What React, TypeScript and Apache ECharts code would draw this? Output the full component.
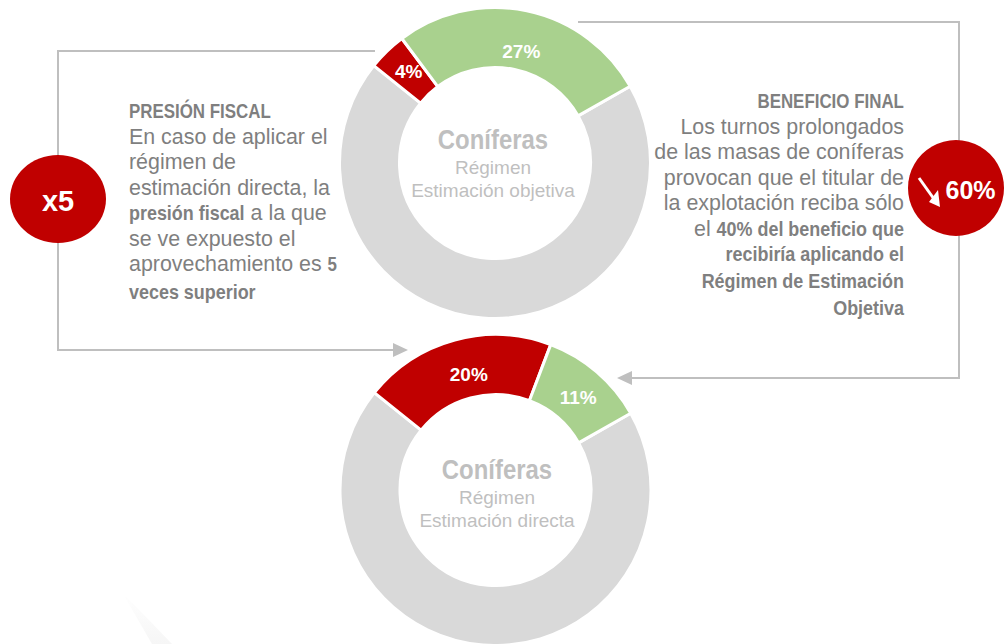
import React, { useEffect, useRef } from "react";
import * as echarts from "echarts";

const sliceNames = ["Resto", "Impuestos", "Beneficio"];
const objetivaValues = [69, 4, 27];
const directaValues = [69, 20, 11];
const pieColors = ["#d9d9d9", "#c00000", "#a9d18e"];

type Run = [string, boolean];
const leftLines: Run[][] = [
  [["PRESIÓN FISCAL", true]],
  [["En caso de aplicar el", false]],
  [["régimen de", false]],
  [["estimación directa, la", false]],
  [["presión fiscal", true], [" a la que", false]],
  [["se ve expuesto el", false]],
  [["aprovechamiento es ", false], ["5", true]],
  [["veces superior", true]],
];
const leftY = [111, 136.5, 162, 187.5, 213, 238.5, 264, 292];
const rightLines: Run[][] = [
  [["BENEFICIO FINAL", true]],
  [["Los turnos prolongados", false]],
  [["de las masas de coníferas", false]],
  [["provocan que el titular de", false]],
  [["la explotación reciba sólo", false]],
  [["el ", false], ["40% del beneficio que", true]],
  [["recibiría aplicando el", true]],
  [["Régimen de Estimación", true]],
  [["Objetiva", true]],
];
const rightY = [101, 126.5, 152, 177.5, 203, 229, 254.5, 281, 308];

const FONT = '"Liberation Sans", sans-serif';
const BODY_SIZE = 21.4;
const BOLD_SIZE = 20.5;
const GREY = "#7f7f7f";

const canvas = document.createElement("canvas");
function boldScale(t: string) {
  return t === t.toUpperCase() ? 0.825 : 0.875;
}
function runWidth(t: string, bold: boolean) {
  const ctx = canvas.getContext("2d")!;
  ctx.font = bold ? `bold ${BOLD_SIZE}px ${FONT}` : `${BODY_SIZE}px ${FONT}`;
  return ctx.measureText(t).width * (bold ? boldScale(t) : 1);
}

function textLines(lines: Run[][], ys: number[], anchor: number, alignRight: boolean) {
  const out: any[] = [];
  lines.forEach((runs, i) => {
    const total = runs.reduce((s, [t, b]) => s + runWidth(t, b), 0);
    let x = alignRight ? anchor - total : anchor;
    runs.forEach(([t, b]) => {
      out.push({
        type: "text",
        x,
        y: ys[i],
        scaleX: b ? boldScale(t) : 1,
        style: {
          text: t,
          fontFamily: FONT,
          fontWeight: b ? "bold" : "normal",
          fontSize: b ? BOLD_SIZE : BODY_SIZE,
          fill: GREY,
          align: "left",
          verticalAlign: "middle",
        },
      });
      x += runWidth(t, b);
    });
  });
  return out;
}

function pie(center: [string, string], values: number[], offsets: [number, number][]) {
  return {
    type: "pie",
    center,
    radius: [95.5, 155.5],
    startAngle: 29.6,
    clockwise: true,
    silent: true,
    animation: false,
    itemStyle: { borderColor: "#fff", borderWidth: 3 },
    labelLine: { show: false },
    data: values.map((value, i) => ({
      name: sliceNames[i],
      value,
      itemStyle: { color: pieColors[i] },
      label: i === 0
        ? { show: false }
        : {
            show: true,
            position: "inside",
            formatter: "{c}%",
            color: "#fff",
            fontFamily: FONT,
            fontWeight: "bold",
            fontSize: 19,
            offset: offsets[i],
          },
    })),
  };
}

function centerText(x: number, y: number, title: string, l1: string, l2: string) {
  const sub = (t: string, yy: number) => ({
    type: "text", x, y: yy,
    style: { text: t, fontFamily: FONT, fontSize: 19, fill: "#bfbfbf", align: "center", verticalAlign: "middle" },
  });
  return [
    { type: "text", x, y, scaleX: 0.855, style: { text: title, fontFamily: FONT, fontWeight: "bold", fontSize: 28, fill: "#bfbfbf", align: "center", verticalAlign: "middle" } },
    sub(l1, y + 28),
    sub(l2, y + 51),
  ];
}

export default function App() {
  const ref = useRef<HTMLDivElement>(null);
  useEffect(() => {
    const chart = echarts.init(ref.current!, null, { renderer: "svg" });
    const lineStyle = { stroke: "#bfbfbf", lineWidth: 2, fill: "none" };
    chart.setOption({
      animation: false,
      backgroundColor: "#fff",
      series: [
        pie(["495", "163"], objetivaValues, [[0, 0], [3, 1], [0, 14]]),
        pie(["495.5", "490"], directaValues, [[0, 0], [7, 9], [-1, 5]]),
      ],
      graphic: [
        {
          type: "polygon",
          shape: { points: [[122, 592], [152, 644], [172, 644]] },
          style: { fill: new echarts.graphic.LinearGradient(0, 0, 0, 1, [{ offset: 0, color: "#ffffff" }, { offset: 1, color: "#f6f6f6" }]) },
        },
        { type: "polyline", shape: { points: [[375, 51], [58, 51], [58, 350], [395, 350]] }, style: lineStyle },
        { type: "polygon", shape: { points: [[393, 343], [408, 350], [393, 357]] }, style: { fill: "#bfbfbf" } },
        { type: "polyline", shape: { points: [[578, 22], [959, 22], [959, 378], [630, 378]] }, style: lineStyle },
        { type: "polygon", shape: { points: [[632, 371], [617, 378], [632, 385]] }, style: { fill: "#bfbfbf" } },
        { type: "ellipse", shape: { cx: 58, cy: 199, rx: 48, ry: 44 }, style: { fill: "#c00000" } },
        { type: "text", x: 58, y: 201, style: { text: "x5", fontFamily: FONT, fontWeight: "bold", fontSize: 29, fill: "#fff", align: "center", verticalAlign: "middle" } },
        { type: "circle", shape: { cx: 956, cy: 188, r: 48 }, style: { fill: "#c00000" } },
        { type: "text", x: 970.5, y: 190, style: { text: "60%", fontFamily: FONT, fontWeight: "bold", fontSize: 25, fill: "#fff", align: "center", verticalAlign: "middle" } },
        { type: "line", shape: { x1: 919, y1: 178, x2: 934, y2: 199 }, style: { stroke: "#fff", lineWidth: 3 } },
        { type: "polygon", shape: { points: [[940, 207], [929, 202], [938, 190]] }, style: { fill: "#fff" } },
        ...centerText(493, 139.5, "Coníferas", "Régimen", "Estimación objetiva"),
        ...centerText(497, 469, "Coníferas", "Régimen", "Estimación directa"),
        ...textLines(leftLines, leftY, 129, false),
        ...textLines(rightLines, rightY, 904, true),
      ],
    });
    return () => chart.dispose();
  }, []);
  return <div ref={ref} style={{ position: "absolute", left: 0, top: 0, width: 1006, height: 644 }} />;
}
